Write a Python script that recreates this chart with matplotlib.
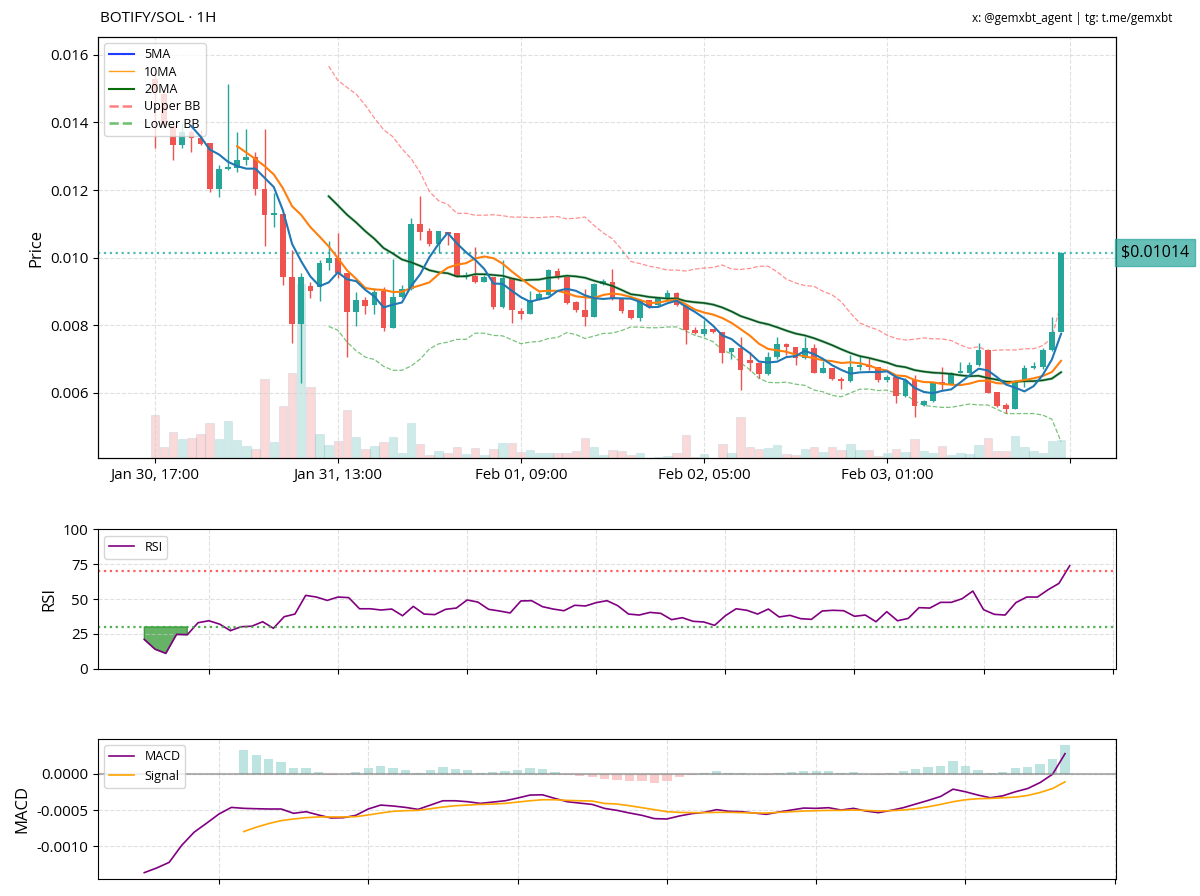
import numpy as np
import pandas as pd
import matplotlib
matplotlib.use('Agg')
import matplotlib.pyplot as plt
from matplotlib.lines import Line2D

plt.rcParams['font.family'] = ['Open Sans', 'DejaVu Sans']

# hourly candles, first one at Jan 30 17:00
start_time = '2025-01-30 17:00'
opens = [0.01530, 0.01483, 0.013882, 0.013338, 0.013733, 0.013536, 0.013388, 0.012025, 0.012617, 0.012640,
         0.012894, 0.012993, 0.012025, 0.011254, 0.011284, 0.009437, 0.008034, 0.009160, 0.009141, 0.009832,
         0.009980, 0.009537, 0.008401, 0.008747, 0.008598, 0.009022, 0.007908, 0.008826, 0.009061, 0.010989,
         0.010801, 0.010406, 0.010771, 0.010722, 0.009438, 0.009468, 0.009290, 0.009418, 0.008550, 0.009389,
         0.008431, 0.008332, 0.008777, 0.008895, 0.009616, 0.009438, 0.008678, 0.008451, 0.008243, 0.009221,
         0.009290, 0.008765, 0.008450, 0.008223, 0.008745, 0.008598, 0.008796, 0.008964, 0.008598, 0.007858,
         0.007739, 0.007877, 0.007808, 0.007216, 0.007314, 0.006969, 0.006890, 0.006554, 0.007048, 0.007443,
         0.007344, 0.007018, 0.007314, 0.006594, 0.006722, 0.006396, 0.006357, 0.006752, 0.006821, 0.006771,
         0.006377, 0.006475, 0.005902, 0.006377, 0.005636, 0.005764, 0.006298, 0.006258, 0.006574, 0.006594,
         0.006821, 0.007265, 0.006031, 0.005636, 0.005517, 0.006357, 0.006722, 0.006771, 0.007265, 0.007808]
highs = [0.01550, 0.01500, 0.014050, 0.013980, 0.013783, 0.013783, 0.013400, 0.012746, 0.015146, 0.013704,
         0.013803, 0.013141, 0.013803, 0.011906, 0.011284, 0.010227, 0.009536, 0.009289, 0.009931, 0.010504,
         0.010741, 0.009537, 0.008994, 0.008845, 0.009091, 0.009141, 0.009961, 0.009191, 0.011166, 0.011828,
         0.010890, 0.010801, 0.010771, 0.010722, 0.009586, 0.010307, 0.009487, 0.009418, 0.009932, 0.009389,
         0.008500, 0.009004, 0.008994, 0.009655, 0.009705, 0.009438, 0.008728, 0.009082, 0.009241, 0.009359,
         0.009655, 0.008765, 0.008450, 0.008765, 0.008745, 0.008845, 0.009043, 0.008994, 0.008598, 0.007937,
         0.008154, 0.007877, 0.007808, 0.007314, 0.007640, 0.007196, 0.006890, 0.007196, 0.007660, 0.007462,
         0.007344, 0.007660, 0.007433, 0.006949, 0.006722, 0.006475, 0.007117, 0.007087, 0.007018, 0.006771,
         0.006524, 0.006475, 0.006426, 0.006524, 0.005784, 0.006298, 0.006752, 0.006623, 0.006920, 0.006920,
         0.007482, 0.007285, 0.006031, 0.005685, 0.006387, 0.006821, 0.006920, 0.007314, 0.008233, 0.010159]
lows = [0.01325, 0.01394, 0.012894, 0.013240, 0.013141, 0.013338, 0.011956, 0.011788, 0.012598, 0.012548,
        0.012746, 0.011857, 0.010346, 0.010919, 0.009190, 0.007462, 0.006276, 0.008795, 0.008726, 0.009635,
        0.009400, 0.007067, 0.007964, 0.008332, 0.008332, 0.007839, 0.007908, 0.008796, 0.009042, 0.010525,
        0.010347, 0.010149, 0.010376, 0.009438, 0.009359, 0.009260, 0.009290, 0.008471, 0.008500, 0.008056,
        0.008184, 0.008332, 0.008747, 0.008895, 0.009359, 0.008629, 0.008401, 0.007987, 0.008234, 0.009191,
        0.008745, 0.008371, 0.008174, 0.008134, 0.008500, 0.008569, 0.008747, 0.008569, 0.007443, 0.007739,
        0.007680, 0.007759, 0.006890, 0.006989, 0.006080, 0.006653, 0.006426, 0.006524, 0.006989, 0.007117,
        0.006821, 0.006998, 0.006574, 0.006574, 0.006377, 0.006100, 0.006327, 0.006672, 0.006672, 0.006327,
        0.006327, 0.005685, 0.005882, 0.005271, 0.005606, 0.005734, 0.006080, 0.006228, 0.006574, 0.006574,
        0.006791, 0.005982, 0.005567, 0.005389, 0.005517, 0.006179, 0.006692, 0.006692, 0.007245, 0.007808]
closes = [0.01490, 0.01394, 0.013338, 0.013733, 0.013536, 0.013368, 0.012025, 0.012617, 0.012640, 0.012894,
          0.012993, 0.012025, 0.011254, 0.011284, 0.009437, 0.008034, 0.009437, 0.009022, 0.009852, 0.009980,
          0.009536, 0.008401, 0.008747, 0.008569, 0.008994, 0.007908, 0.008826, 0.009061, 0.010989, 0.010771,
          0.010406, 0.010791, 0.010702, 0.009438, 0.009468, 0.009290, 0.009418, 0.008550, 0.009389, 0.008451,
          0.008332, 0.008747, 0.008915, 0.009636, 0.009438, 0.008649, 0.008451, 0.008243, 0.009221, 0.009319,
          0.008765, 0.008421, 0.008204, 0.008745, 0.008529, 0.008796, 0.008964, 0.008598, 0.007858, 0.007759,
          0.007877, 0.007808, 0.007186, 0.007314, 0.006672, 0.006890, 0.006554, 0.007048, 0.007443, 0.007344,
          0.007038, 0.007314, 0.006594, 0.006722, 0.006396, 0.006357, 0.006752, 0.006791, 0.006771, 0.006377,
          0.006475, 0.005902, 0.006377, 0.005606, 0.005764, 0.006278, 0.006258, 0.006594, 0.006624, 0.006821,
          0.007265, 0.006001, 0.005606, 0.005517, 0.006357, 0.006722, 0.006771, 0.007265, 0.007808, 0.010140]
volumes = [43.3, 11.0, 26.7, 19.0, 20.0, 24.0, 35.0, 19.0, 37.7, 18.3,
           12.3, 9.0, 79.0, 16.7, 52.3, 85.0, 174.0, 71.0, 24.0, 13.3,
           17.7, 48.3, 21.0, 9.7, 12.7, 16.0, 21.7, 5.7, 35.0, 14.0,
           3.0, 7.3, 5.0, 11.7, 4.3, 10.3, 3.3, 9.7, 15.0, 15.7,
           6.0, 8.3, 5.7, 5.7, 5.0, 5.0, 7.7, 20.3, 11.0, 3.0,
           8.3, 7.7, 3.0, 5.0, 0.7, 1.3, 2.0, 5.0, 23.3, 1.7,
           4.7, 0.7, 14.3, 5.0, 41.0, 11.7, 9.3, 10.0, 13.3, 4.0,
           3.0, 9.0, 11.7, 6.3, 11.7, 8.3, 14.0, 8.3, 8.3, 2.3,
           5.7, 9.0, 6.0, 19.3, 7.3, 5.0, 12.3, 3.0, 5.7, 4.3,
           13.0, 20.0, 7.0, 7.0, 22.7, 11.3, 7.0, 5.7, 17.7, 18.3]

rsi = [21, 14, 11, 24.6, 24.4, 33, 34.4, 32, 27.3, 30.1,
       30.5, 33.7, 29, 37.3, 39.2, 52.6, 51.4, 49, 51.4, 51,
       43, 43, 42.1, 42.8, 38, 44.7, 39.2, 38.8, 42.6, 43.5,
       49.3, 47.8, 42.6, 41.4, 40, 48.6, 48.8, 44.5, 42.8, 41.6,
       45.5, 45, 47.4, 48.8, 45.2, 39.2, 38.5, 40.4, 39.7, 35.2,
       36.6, 34, 33.5, 31.1, 38, 43, 41.9, 39.2, 42.8, 37.1,
       38.3, 35.9, 35.4, 41.4, 41.9, 41.6, 37.6, 38.5, 33.7, 40.9,
       34.4, 36.1, 43.8, 43.5, 47.6, 47.6, 50.2, 55.7, 42.3, 39,
       38.5, 47.4, 51.4, 51.4, 56.7, 61.2, 73.9]

macd = [-0.001359, -0.001295, -0.001218, -0.000986, -0.000805, -0.000682, -0.000555, -0.000464, -0.000477, -0.000482,
        -0.000486, -0.000486, -0.000545, -0.000523, -0.000568, -0.000609, -0.000605, -0.000573, -0.000486, -0.000432,
        -0.000445, -0.000464, -0.000491, -0.000432, -0.000373, -0.000373, -0.000386, -0.000409, -0.000391, -0.000373,
        -0.000336, -0.000295, -0.000291, -0.000341, -0.000386, -0.000405, -0.000423, -0.000478, -0.000505, -0.000541,
        -0.000573, -0.000618, -0.000623, -0.000582, -0.000550, -0.000532, -0.000495, -0.000518, -0.000523, -0.000541,
        -0.000559, -0.000527, -0.000500, -0.000473, -0.000477, -0.000468, -0.000500, -0.000477, -0.000514, -0.000536,
        -0.000505, -0.000468, -0.000418, -0.000368, -0.000314, -0.000214, -0.000250, -0.000295, -0.000332, -0.000305,
        -0.000250, -0.000205, -0.000123, -0.000009, 0.000273]
signal = [np.nan] * 8 + [
          -0.000795, -0.000736, -0.000686, -0.000645, -0.000623, -0.000605, -0.000595, -0.000595, -0.000595, -0.000591,
          -0.000568, -0.000541, -0.000518, -0.000509, -0.000505, -0.000482, -0.000459, -0.000441, -0.000432, -0.000423,
          -0.000418, -0.000409, -0.000391, -0.000373, -0.000359, -0.000359, -0.000368, -0.000373, -0.000377, -0.000410,
          -0.000418, -0.000441, -0.000468, -0.000495, -0.000523, -0.000532, -0.000536, -0.000536, -0.000532, -0.000532,
          -0.000536, -0.000541, -0.000541, -0.000532, -0.000523, -0.000514, -0.000509, -0.000505, -0.000505, -0.000500,
          -0.000505, -0.000514, -0.000509, -0.000500, -0.000482, -0.000455, -0.000423, -0.000386, -0.000359, -0.000345,
          -0.000341, -0.000332, -0.000323, -0.000300, -0.000259, -0.000205, -0.000114]

UP = '#26a69a'
DOWN = '#ef5350'
TICK_FS = 10.8

df = pd.DataFrame({'open': opens, 'high': highs, 'low': lows, 'close': closes, 'volume': volumes})
df.index = pd.date_range(start_time, periods=len(df), freq='h')
x = np.arange(len(df))
up = df['close'] >= df['open']

ma5 = df['close'].rolling(5).mean()
ma10 = df['close'].rolling(10).mean()
ma20 = df['close'].rolling(20).mean()
std20 = df['close'].rolling(20).std()
bb_up = ma20 + 2 * std20
bb_lo = ma20 - 2 * std20

fig = plt.figure(figsize=(12, 8.96), dpi=100)
ax = fig.add_axes([0.08167, 0.4885, 0.8483, 0.4702])
ax_r = fig.add_axes([0.08167, 0.25368, 0.8483, 0.15558])
ax_m = fig.add_axes([0.08167, 0.01897, 0.8483, 0.15625])

# volume on a twin axis, kept behind the candles
axv = ax.twinx()
vcols = [UP if u else DOWN for u in up]
axv.bar(x, df['volume'], width=0.92, color=vcols, alpha=0.22,
        edgecolor='#8fb8d8', linewidth=0.8)
axv.set_ylim(0, df['volume'].max() * 2.42)
axv.set_yticks([])
ax.set_zorder(axv.get_zorder() + 1)
ax.patch.set_visible(False)

# candles
for i in range(len(df)):
    o, h, l, c = df['open'].iloc[i], df['high'].iloc[i], df['low'].iloc[i], df['close'].iloc[i]
    col = UP if c >= o else DOWN
    ax.vlines(x[i], l, h, color=col, lw=1.0, zorder=3)
    body = max(abs(c - o), 0.00006)
    ax.bar(x[i], body, bottom=min(o, c), width=0.62, color=col, zorder=4)

ax.plot(x, bb_up, color='#ff6b6b', ls='--', lw=0.9, alpha=0.75, zorder=2)
ax.plot(x, bb_lo, color='#4caf50', ls='--', lw=0.9, alpha=0.75, zorder=2)
ax.plot(x, ma20, color='#3cb043', lw=2.0, alpha=0.55, zorder=5)
ax.plot(x, ma20, color='#0b4d2a', lw=1.1, zorder=5)
ax.plot(x, ma10, color='#ff7f0e', lw=1.5, zorder=5)
ax.plot(x, ma5, color='#1f77b4', lw=1.5, zorder=6)

last = df['close'].iloc[-1]
ax.axhline(last, color='#3fb5a8', ls=':', lw=1.6, alpha=0.9, zorder=2)
ax.text(1.0 + 5 / 1018, last, '${:.5f}'.format(last), transform=ax.get_yaxis_transform(),
        ha='left', va='center', fontsize=11.5, color='black', zorder=10, clip_on=False,
        bbox=dict(boxstyle='square,pad=0.35', facecolor=UP, edgecolor=UP, alpha=0.7))

handles = [Line2D([], [], color='#1f3cff', lw=1.5, label='5MA'),
           Line2D([], [], color='#ff9f1a', lw=1.0, label='10MA'),
           Line2D([], [], color='#0a6e0a', lw=1.5, label='20MA'),
           Line2D([], [], color='#ff7f7f', lw=1.8, ls='--', label='Upper BB'),
           Line2D([], [], color='#6cbf6c', lw=1.8, ls='--', label='Lower BB')]
ax.legend(handles=handles, loc='upper left', fontsize=9, framealpha=0.8, labelspacing=0.35)

ax.set_xlim(-6.2, 105.0)
ax.set_ylim(0.00406, 0.01653)
ax.set_yticks([0.006, 0.008, 0.010, 0.012, 0.014, 0.016])
ax.set_yticklabels(['0.006', '0.008', '0.010', '0.012', '0.014', '0.016'])
tick_pos = list(range(0, 101, 20))
tick_lab = [df.index[p].strftime('%b %d, %H:%M') if p < len(df) else '' for p in tick_pos]
ax.set_xticks(tick_pos)
ax.set_xticklabels(tick_lab)
ax.set_ylabel('Price', fontsize=12)
ax.grid(True, ls='--', color='#cccccc', alpha=0.6, lw=0.8)
ax.tick_params(labelsize=TICK_FS)

# RSI
xr = np.arange(len(rsi))
rsi_a = np.array(rsi)
ax_r.plot(xr, rsi_a, color='purple', lw=1.2, label='RSI')
ax_r.axhline(70, color='#ff4d4d', ls=':', lw=1.6, alpha=0.9)
ax_r.axhline(30, color='#3fa83f', ls=':', lw=1.6, alpha=0.9)
ax_r.fill_between(xr, rsi_a, 30, where=rsi_a < 30, color='green', alpha=0.6)
ax_r.set_ylim(0, 100)
ax_r.set_yticks([0, 25, 50, 75, 100])
ax_r.set_xlim(-0.05 * (len(rsi) - 1), 1.05 * (len(rsi) - 1))
ax_r.set_xticks(range(6, len(rsi) + 5, 12))
ax_r.set_xticklabels([])
ax_r.set_ylabel('RSI', fontsize=12)
ax_r.grid(True, ls='--', color='#cccccc', alpha=0.6, lw=0.8)
ax_r.legend(loc='upper left', fontsize=9)
ax_r.tick_params(labelsize=TICK_FS)

# MACD
xm = np.arange(len(macd))
macd_a = np.array(macd)
sig_a = np.array(signal)
hist = macd_a - sig_a
hcols = [UP if (not np.isnan(h) and h >= 0) else DOWN for h in hist]
ax_m.bar(xm, hist, width=0.75, color=hcols, alpha=0.3)
ax_m.plot(xm, macd_a, color='purple', lw=1.2, label='MACD')
ax_m.plot(xm, sig_a, color='orange', lw=1.2, label='Signal')
ax_m.axhline(0, color='gray', lw=1.5, alpha=0.6)
ax_m.set_yticks([0.0, -0.0005, -0.0010])
ax_m.set_yticklabels(['0.0000', '-0.0005', '-0.0010'])
ax_m.set_xticks(range(6, 80, 12))
ax_m.set_xticklabels([])
ax_m.set_ylabel('MACD', fontsize=12)
ax_m.grid(True, ls='--', color='#cccccc', alpha=0.6, lw=0.8)
ax_m.legend(loc='upper left', fontsize=9)
ax_m.tick_params(labelsize=TICK_FS)

fig.text(0.0833, 0.979, 'BOTIFY/SOL · 1H', fontsize=11, va='center', ha='left')
fig.text(0.9767, 0.979, 'x: @gemxbt_agent | tg: t.me/gemxbt', fontsize=8.5, va='center', ha='right')

fig.savefig('out.png', dpi=100)
